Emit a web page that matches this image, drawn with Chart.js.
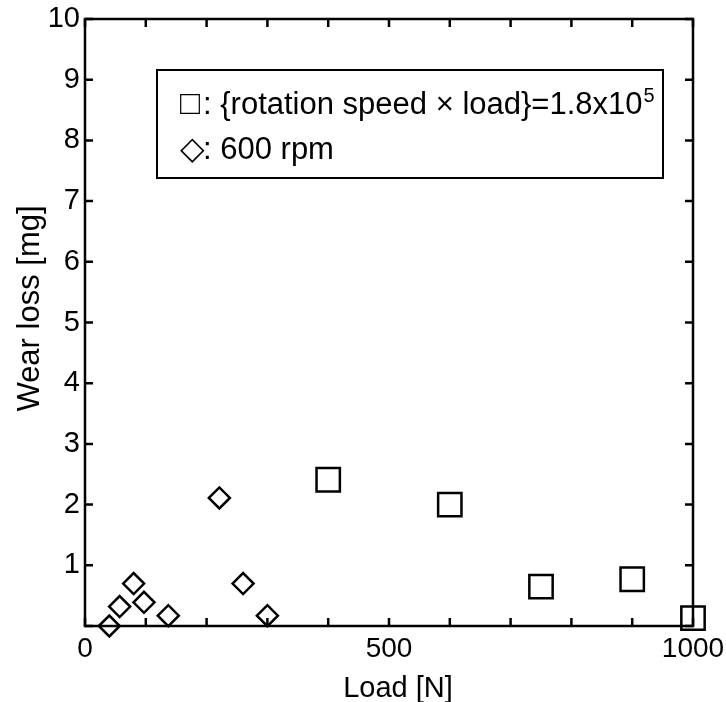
<!DOCTYPE html>
<html lang="en">
<head>
<meta charset="UTF-8" />
<title>Wear loss vs load</title>
<script src="https://cdn.jsdelivr.net/npm/chart.js"></script>
<style>
  html, body { margin: 0; padding: 0; background: #fff; }
  #wrap { width: 726px; height: 702px; }
</style>
</head>
<body>
<div id="wrap"><canvas id="chart" width="726" height="702"></canvas></div>
<script>
// constant {rotation speed x load} series
const squareLoad = [400, 600, 750, 900, 1000];
const squareWear = [2.41, 2.0, 0.65, 0.77, 0.13];
// 600 rpm series
const diamondLoad = [40, 57, 80, 97, 137, 221, 260, 300];
const diamondWear = [0.0, 0.32, 0.70, 0.39, 0.17, 2.11, 0.70, 0.17];

const xLabels = [0, 500, 1000];
const squareSymbol = '\u25A1';
const squareLabel = ': {rotation speed \u00D7 load}=1.8x10';
const squareSup = '5';
const diamondSymbol = '\u25C7';
const diamondLabel = ': 600 rpm';
const xTitle = 'Load [N]';
const yTitle = 'Wear loss [mg]';

const FONT = '"Liberation Sans", Arial, sans-serif';

function toPoints(xs, ys) {
  return xs.map((x, i) => ({ x: x, y: ys[i] }));
}

// drop the extra room chart.js keeps for overhanging tick labels
function fixPadding(s) {
  s.paddingTop = 0; s.paddingBottom = 0;
  s.paddingLeft = 0; s.paddingRight = 0;
}

// frame, inward ticks on all four sides, titles and the boxed legend
const framePlugin = {
  id: 'frame',
  afterDraw(chart) {
    const { ctx, chartArea: a, scales } = chart;
    const tl = 8;
    ctx.save();
    ctx.strokeStyle = '#000';
    ctx.lineWidth = 2.5;
    ctx.strokeRect(a.left, a.top, a.right - a.left, a.bottom - a.top);
    ctx.beginPath();
    scales.x.ticks.forEach(t => {
      const px = scales.x.getPixelForValue(t.value);
      ctx.moveTo(px, a.bottom); ctx.lineTo(px, a.bottom - tl);
      ctx.moveTo(px, a.top); ctx.lineTo(px, a.top + tl);
    });
    scales.y.ticks.forEach(t => {
      const py = scales.y.getPixelForValue(t.value);
      ctx.moveTo(a.left, py); ctx.lineTo(a.left + tl, py);
      ctx.moveTo(a.right, py); ctx.lineTo(a.right - tl, py);
    });
    ctx.stroke();

    ctx.fillStyle = '#000';
    ctx.textBaseline = 'alphabetic';

    // axis titles
    ctx.font = '29px ' + FONT;
    ctx.textAlign = 'center';
    ctx.fillText(xTitle, (a.left + a.right) / 2 + 9, 697);
    ctx.save();
    ctx.translate(39, (a.top + a.bottom) / 2 - 14);
    ctx.rotate(-Math.PI / 2);
    ctx.font = '31px ' + FONT;
    ctx.fillText(yTitle, 0, 0);
    ctx.restore();

    // legend box
    const bx = a.left + 72, by = a.top + 51, bw = 506, bh = 108;
    ctx.lineWidth = 2;
    ctx.strokeRect(bx, by, bw, bh);
    ctx.textAlign = 'left';
    const sx = bx + 23, tx = bx + 46;
    const y1 = by + 44, y2 = by + 89;
    ctx.font = '33px ' + FONT;
    ctx.fillText(squareSymbol, sx, y1);
    ctx.font = '32px ' + FONT;
    ctx.fillText(diamondSymbol, sx, y2);
    ctx.font = '31px ' + FONT;
    ctx.fillText(squareLabel, tx, y1);
    const w = ctx.measureText(squareLabel).width;
    ctx.fillText(diamondLabel, tx, y2);
    ctx.font = '20px ' + FONT;
    ctx.fillText(squareSup, tx + w + 1, y1 - 12);
    ctx.restore();
  }
};

const ctx = document.getElementById('chart').getContext('2d');
new Chart(ctx, {
  type: 'scatter',
  data: {
    datasets: [
      {
        label: 'square',
        data: toPoints(squareLoad, squareWear),
        pointStyle: 'rect',
        pointRadius: 16.5,
        pointHoverRadius: 16.5,
        borderColor: '#000',
        backgroundColor: 'rgba(0,0,0,0)',
        borderWidth: 2.5,
        clip: false
      },
      {
        label: 'diamond',
        data: toPoints(diamondLoad, diamondWear),
        pointStyle: 'rectRot',
        pointRadius: 10.5,
        pointHoverRadius: 10.5,
        borderColor: '#000',
        backgroundColor: 'rgba(0,0,0,0)',
        borderWidth: 2.5,
        clip: false
      }
    ]
  },
  options: {
    responsive: false,
    animation: false,
    events: [],
    layout: { padding: { top: 17, right: 33, left: 0, bottom: 0 } },
    plugins: {
      legend: { display: false },
      tooltip: { enabled: false }
    },
    scales: {
      x: {
        type: 'linear',
        min: 0,
        max: 1000,
        afterFit: s => { s.height = 76; fixPadding(s); },
        grid: { display: false, drawTicks: false },
        border: { display: false },
        ticks: {
          stepSize: 100,
          autoSkip: false,
          maxRotation: 0,
          padding: 6,
          color: '#000',
          font: { family: FONT, size: 28 },
          callback: v => (xLabels.includes(v) ? String(v) : '')
        }
      },
      y: {
        type: 'linear',
        min: 0,
        max: 10,
        afterFit: s => { s.width = 85; fixPadding(s); },
        grid: { display: false, drawTicks: false },
        border: { display: false },
        ticks: {
          stepSize: 1,
          autoSkip: false,
          padding: 5,
          color: '#000',
          font: { family: FONT, size: 29 },
          callback: v => (v === 0 ? '' : String(v))
        }
      }
    }
  },
  plugins: [framePlugin]
});
</script>
</body>
</html>
